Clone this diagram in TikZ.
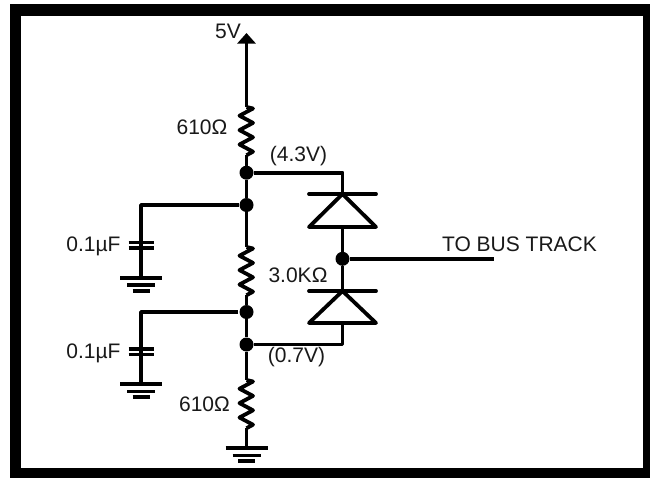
\documentclass[tikz,border=0pt]{standalone}
\usepackage{fontspec}
\setmainfont{Liberation Sans}
\usetikzlibrary{arrows.meta}
\tikzset{
  wire/.style={line width=3.8pt,line join=round},
  dot/.style={circle,fill=black,draw=none,inner sep=0pt,minimum size=14pt},
  lbl/.style={inner sep=0pt,font=\fontsize{21}{23}\selectfont,text=black!90},
  bar/.style={line width=3.8pt},
}
% ground symbol below a named coordinate
\newcommand{\gnd}[1]{%
  \draw[bar] ([xshift=-21pt]#1) -- ([xshift=21pt]#1);
  \draw[bar] ([xshift=-14pt,yshift=-7.5pt]#1) -- ([xshift=14pt,yshift=-7.5pt]#1);
  \draw[bar] ([xshift=-8.5pt,yshift=-13pt]#1) -- ([xshift=8.5pt,yshift=-13pt]#1);
}
% resistor starting at a named coordinate, running downward
\newcommand{\zres}[2]{%
  \draw[wire] (#1) -- ++(6.5,1.5) -- ++(-13.5,#2) -- ++(13.5,#2) -- ++(-13.5,#2) -- ++(13.5,#2) -- ++(-13.5,#2) -- ++(13.5,#2) -- ++(-6.5,3.5);
}
% capacitor plates at a named coordinate
\newcommand{\capa}[1]{%
  \draw[bar] ([xshift=-12.5pt,yshift=3pt]#1) -- ([xshift=12.5pt,yshift=3pt]#1);
  \draw[bar] ([xshift=-12.5pt,yshift=-2.5pt]#1) -- ([xshift=12.5pt,yshift=-2.5pt]#1);
}
% diode with apex up, bar on top
\newcommand{\diode}[2]{%
  \draw[bar,line cap=round] ([xshift=-33.5pt]#1) -- ([xshift=33.5pt]#1);
  \draw[bar,line join=round,line cap=round] (#1) -- ([xshift=-33.5pt,yshift=-#2]#1) -- ([xshift=33.5pt,yshift=-#2]#1) -- cycle;
}
\begin{document}
\begin{tikzpicture}[x=1pt,y=-1pt]
\useasboundingbox (0,0) rectangle (650,477);
\fill[white] (0,0) rectangle (650,477);
% frame
\draw[line width=11.8pt,draw=black] (15.5,10.3) rectangle (648.9,473.9);
\fill[white] (0,0) rectangle (650,4);
\fill[white] (0,0) rectangle (9.5,477);
% main coordinates
\coordinate (tip) at (246.5,33);
\coordinate (r1t) at (246.5,107);
\coordinate (r1b) at (246.5,155.2);
\node[dot] (n1) at (246.5,172.7) {};
\node[dot] (n2) at (246.5,205) {};
\coordinate (r2t) at (246.5,247);
\coordinate (r2b) at (246.5,295.2);
\node[dot] (n3) at (246.5,312) {};
\node[dot] (n4) at (246.5,344.5) {};
\coordinate (r3t) at (246.5,380);
\coordinate (r3b) at (246.5,428.2);
\coordinate (g3) at (246.5,448);
% left branches
\coordinate (c1w) at (141,205);
\coordinate (c1) at (141,245.5);
\coordinate (g1) at (141,277.7);
\coordinate (c2w) at (141,312);
\coordinate (c2) at (141,352);
\coordinate (g2) at (141,384);
\coordinate (n3w) at (238,312);
% diodes
\coordinate (d1w) at (342.5,172.7);
\coordinate (d1) at (342.5,194);
\coordinate (d1b) at (342.5,227);
\node[dot] (j) at (342.5,258.8) {};
\coordinate (d2) at (342.5,291);
\coordinate (d2b) at (342.5,323);
\coordinate (d2w) at (342.5,344.5);
\coordinate (bus) at (494,258.8);
% wires
\draw[wire,-{Triangle[width=18pt,length=10.5pt]}] (r1t) -- (tip);
\zres{r1t}{7.2}
\draw[wire] (r1b) -- (n1);
\draw[wire] (n1) -- (n2) -- (r2t);
\zres{r2t}{7.2}
\draw[wire] (r2b) -- (n3) -- (n4) -- (r3t);
\zres{r3t}{7.2}
\draw[wire] (r3b) -- (g3);
\gnd{g3}
\draw[wire] (n2) -- (c1w) -- (g1);
\capa{c1}
\gnd{g1}
\draw[wire] (n3w) -- (c2w) -- (g2);
\capa{c2}
\gnd{g2}
\draw[wire] (n1) -- (d1w) -- (d1);
\diode{d1}{33pt}
\draw[wire] (d1b) -- (j) -- (d2);
\diode{d2}{32pt}
\draw[wire] (d2b) -- (d2w) -- (n4);
\draw[wire] (j) -- (bus);
% labels
\node[lbl] (t5v) at (228,31.5) {5V};
\node[lbl] (tr1) at (202,127) {610Ω};
\node[lbl] (t43) at (298.5,156) {(4.3V)};
\node[lbl] (tc1) at (93.5,246.5) {0.1µF};
\node[lbl] (tr2) at (298,275.5) {3.0KΩ};
\node[lbl] (t07) at (296.5,357.5) {(0.7V)};
\node[lbl] (tc2) at (93.5,353) {0.1µF};
\node[lbl] (tr3) at (204.5,404) {610Ω};
\node[lbl] (tbus) at (519.5,244) {TO BUS TRACK};
\end{tikzpicture}
\end{document}
